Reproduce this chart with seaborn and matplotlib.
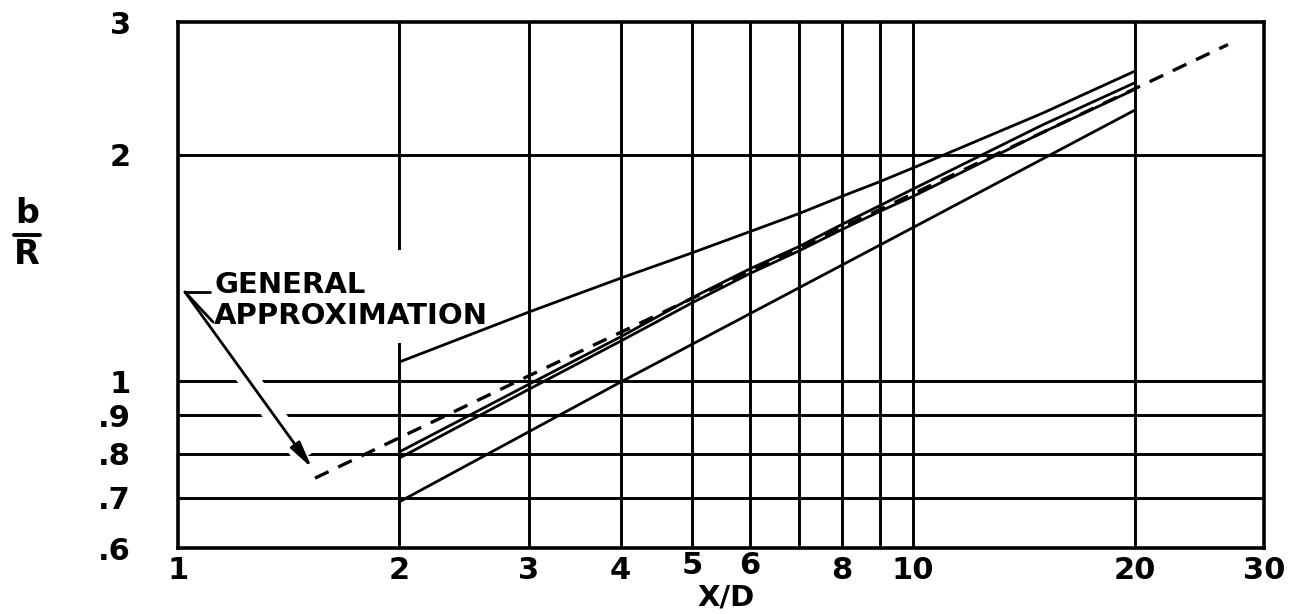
import matplotlib
matplotlib.use("Agg")
import matplotlib.pyplot as plt
import matplotlib.transforms as mtransforms
from matplotlib.patches import Rectangle
import numpy as np
import pandas as pd
import seaborn as sns

# ---------------- data ----------------
top_x = [2, 3, 4, 5, 6, 7, 8, 9, 10, 15, 20]
top_y = [1.06, 1.235, 1.37, 1.48, 1.58, 1.67, 1.76, 1.84, 1.92, 2.27, 2.58]

mid1_x = [2, 3, 4, 5, 6, 7, 8, 9, 10, 15, 20]
mid1_y = [0.805, 0.99, 1.145, 1.29, 1.41, 1.51, 1.615, 1.71, 1.80, 2.19, 2.49]

mid2_x = [2, 3, 4, 5, 6, 7, 8, 9, 10, 15, 20]
mid2_y = [0.79, 0.975, 1.13, 1.27, 1.39, 1.49, 1.59, 1.68, 1.76, 2.14, 2.44]

low_x = [2, 4, 10, 20]
low_y = [0.691, 0.997, 1.60, 2.29]

approx_x = [1.536, 3, 26.8]
approx_y = [0.743, 1.016, 2.80]

x_ticks = [1, 2, 3, 4, 5, 6, 7, 8, 9, 10, 20, 30]
x_tick_labels = ["1", "2", "3", "4", "5", "6", "", "8", "", "10", "20", "30"]
y_ticks = [0.6, 0.7, 0.8, 0.9, 1, 2, 3]
y_tick_labels = [".6", ".7", ".8", ".9", "1", "2", "3"]

annot_text = "GENERAL\nAPPROXIMATION"
x_label = "X/D"

# ---------------- figure ----------------
sns.set_style("white")
plt.rcParams["font.family"] = ["DejaVu Sans"]
plt.rcParams["text.color"] = "black"

W, H = 1301, 614
fig = plt.figure(figsize=(W / 100, H / 100), dpi=100)
L, R, T, B = 178, 1264, 22, 548
ax = fig.add_axes([L / W, 1 - B / H, (R - L) / W, (B - T) / H])

ax.set_xscale("log")
ax.set_yscale("log")
ax.set_xlim(1, 30)
ax.set_ylim(0.6, 3)

# grid
for xv in x_ticks[1:-1]:
    ax.axvline(xv, color="black", lw=2.1, zorder=1)
for yv in y_ticks[1:-1]:
    ax.axhline(yv, color="black", lw=2.1, zorder=1)

for s in ax.spines.values():
    s.set_color("black")
    s.set_linewidth(2.6)
    s.set_zorder(7)

# curves
for xs, ys in [(top_x, top_y), (mid1_x, mid1_y), (mid2_x, mid2_y), (low_x, low_y)]:
    sns.lineplot(x=xs, y=ys, ax=ax, color="black", lw=2.0, estimator=None,
                 sort=False, zorder=3)
sns.lineplot(x=approx_x, y=approx_y, ax=ax, color="black", lw=2.4,
             estimator=None, sort=False, zorder=4, linestyle=(0, (4.5, 3.2)))

# ticks
ax.xaxis.set_major_locator(matplotlib.ticker.FixedLocator(x_ticks))
ax.xaxis.set_minor_locator(matplotlib.ticker.NullLocator())
ax.set_xticklabels(x_tick_labels)
ax.yaxis.set_major_locator(matplotlib.ticker.FixedLocator(y_ticks))
ax.yaxis.set_minor_locator(matplotlib.ticker.NullLocator())
ax.set_yticklabels(y_tick_labels)
ax.tick_params(axis="both", length=0, labelsize=22, labelcolor="black")
ax.tick_params(axis="y", pad=34)
ax.tick_params(axis="x", pad=6)
for lab in ax.get_xticklabels() + ax.get_yticklabels():
    lab.set_fontweight("bold")

for lab in ax.get_xticklabels():
    if lab.get_text() in ("5", "6"):
        off = mtransforms.ScaledTranslation(0, 5 / 100, fig.dpi_scale_trans)
        lab.set_transform(lab.get_transform() + off)

ax.set_xlabel(x_label, fontsize=21, color="black", fontweight="bold")
ax.xaxis.set_label_coords((726 - L) / (R - L), (B - 597) / (B - T))
ax.xaxis.label.set_va("center")
ax.set_ylabel("")

# y label as stacked fraction b / R
fig.text(27 / W, 1 - 214 / H, "b", fontsize=24, ha="center", va="center",
         fontweight="bold", color="black")
fig.text(27 / W, 1 - 254 / H, "R", fontsize=24, ha="center", va="center",
         fontweight="bold", color="black")
fig.add_artist(plt.Line2D([14 / W, 40 / W], [1 - 235 / H, 1 - 235 / H],
                          color="black", lw=2.8, transform=fig.transFigure))

# white patch behind the annotation text (hides grid only)
def px2data(px, py):
    return (10 ** ((px - L) / (R - L) * np.log10(30)),
            0.6 * 10 ** ((B - py) / (B - T) * np.log10(5)))

x0, y0 = px2data(196, 343)
x1, y1 = px2data(492, 250)
ax.add_patch(Rectangle((x0, y0), x1 - x0, y1 - y0, fc="white", ec="none",
                       zorder=2))

tx, ty = px2data(214, 324)
ax.text(tx, ty, annot_text, fontsize=21, ha="left", va="baseline",
        linespacing=1.12, zorder=5, color="black", fontweight="bold")

# pointer bracket and arrow
vx, vy = px2data(185, 292)
hx, _ = px2data(210, 292)
dx, dy = px2data(213, 322)
ax.plot([vx, hx], [vy, vy], color="black", lw=2.0, zorder=6)
ax.plot([vx, dx], [vy, dy], color="black", lw=2.0, zorder=6)
# white halo across gridlines
h0 = px2data(213, 330)
h1 = px2data(305, 458)
ax.plot([h0[0], h1[0]], [h0[1], h1[1]], color="white", lw=15, zorder=2,
        solid_capstyle="butt")
tipx, tipy = px2data(312, 468)
ax.annotate("", xy=(tipx, tipy), xytext=(vx, vy), zorder=6,
            arrowprops=dict(arrowstyle="-|>,head_length=1.6,head_width=0.35",
                            color="black", lw=2.0, shrinkA=0, shrinkB=0))

fig.savefig("out.png", dpi=100, facecolor="white")
